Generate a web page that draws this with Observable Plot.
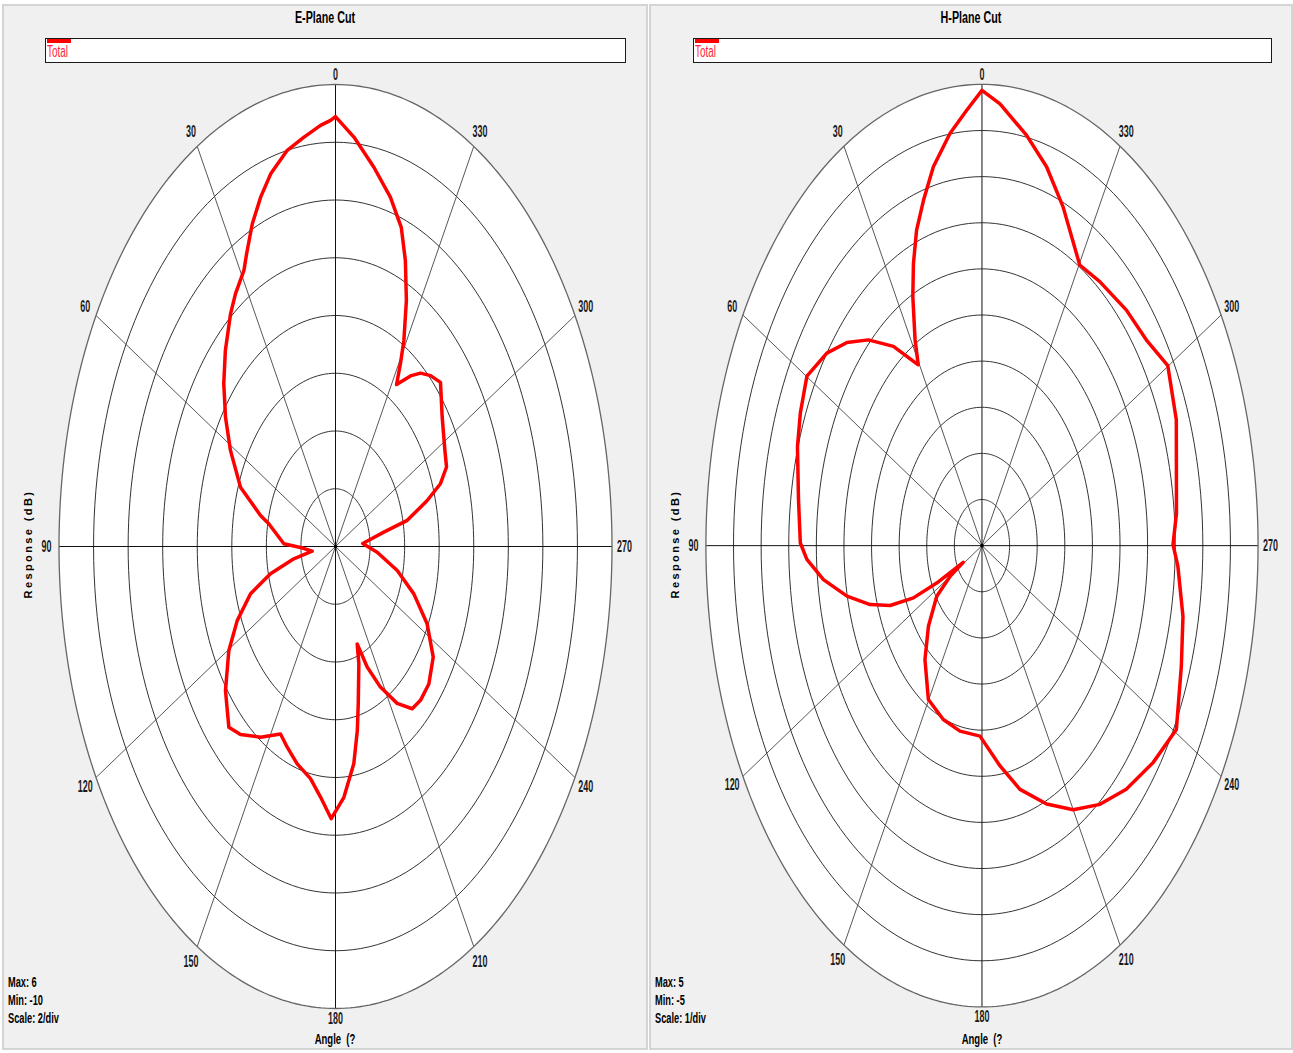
<!DOCTYPE html>
<html>
<head>
<meta charset="utf-8">
<script src="https://cdn.jsdelivr.net/npm/d3@7"></script>
<script src="https://cdn.jsdelivr.net/npm/@observablehq/plot@0.6"></script>
<style>
html, body { margin: 0; padding: 0; background: #fff; width: 1293px; height: 1053px; overflow: hidden; }
#root { position: relative; width: 1293px; height: 1053px; }
.panel { position: absolute; top: 4px; height: 1046px; background: #f0f0f0; border: 2px solid #d4d4d4; box-sizing: border-box; }
.plotwrap { position: absolute; top: 0; }
.t { position: absolute; font-family: "Liberation Sans", Arial, sans-serif; white-space: nowrap; color: #000; }
.title { top: 9px; font-size: 16px; font-weight: bold; text-align: center; transform: scaleX(0.67); transform-origin: center; }
.legend { position: absolute; top: 38px; height: 25px; box-sizing: border-box; border: 1px solid #1a1a1a; background: #fff; }
.legend .bar { position: absolute; left: 1px; top: 0px; width: 24px; height: 4px; background: #ff0000; }
.legend .lab { position: absolute; left: 1px; top: 4px; font-family: "Liberation Sans", Arial, sans-serif; font-size: 16px; color: #ff1e3c; transform: scaleX(0.62); transform-origin: left center; }
.info { font-size: 14px; font-weight: bold; line-height: 18px; transform: scaleX(0.66); transform-origin: left top; }
.angle { top: 1031px; width: 200px; font-size: 14px; font-weight: bold; text-align: center; transform: scaleX(0.68); }
.resp { width: 200px; top: 538px; font-size: 11px; font-weight: bold; letter-spacing: 2.4px; text-align: center; transform: rotate(-90deg); }
</style>
</head>
<body>
<div id="root">
  <div class="panel" style="left:2px;width:646px"></div>
  <div class="panel" style="left:649px;width:644px"></div>
  <div class="plotwrap" id="p0" style="left:0px"></div>
  <div class="plotwrap" id="p1" style="left:647px"></div>

  <div class="t title" style="left:2px;width:646px">E-Plane Cut</div>
  <div class="t title" style="left:649px;width:644px">H-Plane Cut</div>

  <div class="legend" style="left:45px;width:581px"><div class="bar"></div><div class="lab">Total</div></div>
  <div class="legend" style="left:693px;width:579px"><div class="bar"></div><div class="lab">Total</div></div>

  <div class="t resp" style="left:-72px">Response  (dB)</div>
  <div class="t resp" style="left:575px">Response  (dB)</div>

  <div class="t info" style="left:8px;top:973px">Max: 6<br>Min: -10<br>Scale: 2/div</div>
  <div class="t info" style="left:655px;top:973px">Max: 5<br>Min: -5<br>Scale: 1/div</div>

  <div class="t angle" style="left:235px">Angle&nbsp; (?</div>
  <div class="t angle" style="left:882px">Angle&nbsp; (?</div>
</div>
<script>
// ---- data (angle in degrees, counter-clockwise from top; response in dB) ----
const ePlaneAngle = [0, 1.1, 3.4, 7.4, 11.5, 16.2, 19.7, 23.3, 26.9, 29.0, 33.5, 37.0, 43.2, 48.9, 54.9, 61.3, 69.5, 76.1, 78.5, 88.2, 90.9, 96.9,
  100.0, 104.1, 108.4, 114.3, 120.3, 128.1, 135.4, 139.8, 146.7, 153.9, 158.1, 163.6, 169.8, 174.3, 178.5,
  183.2, 188.0, 191.2, 193.6, 198.4, 200.4, 203.7, 208.1, 213.3, 218.3, 222.7, 228.6, 235.9, 243.2, 250.1, 256.9, 265.3, 273.8,
  280.1, 282.3, 286.7, 289.7, 293.2, 297.7, 306.0, 313.1, 317.1, 320.7, 323.7, 327.8, 329.3, 331.0, 334.3, 337.8, 341.0, 345.3, 350.4, 355.7];
const ePlaneDb = [4.89, 4.76, 4.61, 4.29, 4.00, 3.44, 2.85, 2.17, 1.37, 0.93, 0.49, 0.09, -0.69, -1.42, -2.22, -3.07, -4.13, -5.53, -6.06, -7.01, -7.97, -8.64,
  -7.55, -6.12, -4.82, -3.76, -2.85, -1.91, -1.21, -1.48, -2.10, -2.77, -2.51, -2.15, -1.83, -1.28, -0.57,
  -1.30, -2.40, -3.50, -4.40, -5.72, -6.40, -5.44, -4.48, -3.50, -2.84, -2.75, -2.80, -3.17, -4.06, -5.18, -6.33, -7.58, -8.42,
  -7.16, -5.75, -4.46, -3.55, -3.01, -2.85, -2.37, -1.68, -1.92, -2.24, -2.67, -3.37, -2.64, -1.84, -0.54, 0.70, 1.69, 2.51, 3.32, 4.22];

const hPlaneAngle = [0, 3.4, 7.4, 12.1, 15.8, 19.1, 22.1, 24.9, 28.5, 30.5, 36.6, 42.7, 48.0, 53.4, 59.9, 66.4, 72.2, 81.5, 89.5, 92.7, 97.3,
  102.6, 107.5, 111.3, 114.5, 116.3, 118.1, 119.9, 123.8, 132.0, 140.1, 149.8, 159.6, 168.8, 179.0, 187.8, 194.6, 202.7, 210.0, 217.3,
  224.7, 232.8, 240.5, 250.1, 258.1, 266.4, 270.2, 275.7, 291.2, 300.1, 306.8, 314.3, 323.3, 329.8, 338.2, 344.1, 349.7, 356.1];
const hPlaneDb = [4.87, 4.45, 4.01, 3.40, 2.78, 2.24, 1.60, 0.95, 0.08, -0.45, 0.38, 1.07, 1.58, 2.00, 2.33, 2.18, 2.02, 1.72, 1.58, 1.35, 0.79,
  0.01, -0.75, -1.43, -2.27, -3.17, -4.23, -3.67, -3.03, -2.39, -1.78, -1.14, -0.98, -0.90, -0.87, -0.18, 0.46, 1.07, 1.61, 2.05,
  2.43, 2.78, 3.09, 2.68, 2.44, 2.11, 1.92, 2.08, 2.55, 2.78, 2.44, 2.31, 2.14, 2.04, 2.91, 3.54, 4.04, 4.60];

const angleTicks = [0, 30, 60, 90, 120, 150, 180, 210, 240, 270, 300, 330];
const ePlaneScale = [-10, 6, 2];   // min, max, dB per division
const hPlaneScale = [-5, 5, 1];

// ---- polar chart builder ----
const rad = a => a * Math.PI / 180;
const px = (a, r) => -r * Math.sin(rad(a));
const py = (a, r) => r * Math.cos(rad(a));

function polar(angles, dbs, [lo, hi, step]) {
  const n = Math.round((hi - lo) / step);
  const pattern = angles.map((a, i) => ({a, r: (dbs[i] - lo) / (hi - lo)}));
  const rings = [];
  for (let k = 1; k < n; k++) for (let a = 0; a < 360; a += 2) rings.push({k, a, r: k / n});
  const outer = d3.range(0, 360, 1).map(a => ({a, r: 1}));
  const X = d => px(d.a, d.r), Y = d => py(d.a, d.r);
  const font = '"Liberation Sans", Arial, sans-serif';
  const svg = Plot.plot({
    width: 647, height: 1053,
    marginLeft: 58.5, marginRight: 35.5, marginTop: 84, marginBottom: 45,
    x: {domain: [-1, 1], axis: null},
    y: {domain: [-1, 1], axis: null},
    style: {background: "transparent", overflow: "visible"},
    marks: [
      Plot.line(outer, {x: X, y: Y, fill: "white", stroke: "none", curve: "linear-closed"}),
      Plot.line(rings, {x: X, y: Y, z: "k", stroke: "#333", strokeWidth: 1, curve: "linear-closed"}),
      Plot.link(angleTicks.filter(a => a % 90 !== 0), {x1: 0, y1: 0, x2: a => px(a, 1), y2: a => py(a, 1), stroke: "#444", strokeWidth: 0.9}),
      Plot.link(angleTicks.filter(a => a % 90 === 0), {x1: 0, y1: 0, x2: a => px(a, 1), y2: a => py(a, 1), stroke: "#111", strokeWidth: 1}),
      Plot.line(outer, {x: X, y: Y, stroke: "#666", strokeWidth: 1.3, curve: "linear-closed"}),
      Plot.dot([0], {x: 0, y: 0, r: 1.8, fill: "#000", stroke: "none"}),
      Plot.line(pattern, {x: X, y: Y, stroke: "#ff0000", strokeWidth: 3.5, strokeLinejoin: "round", curve: "linear-closed"}),
      Plot.text(angleTicks, {x: a => px(a, 1.045), y: a => py(a, a % 180 === 0 ? 1.0216 : 1.037), dy: 5.5,
        text: a => String(a), fontSize: 16, fontWeight: "bold", fontFamily: font, fill: "#1a1a1a"})
    ]
  });
  // condense tick labels horizontally like the original narrow font
  svg.querySelectorAll('g[aria-label="text"] text').forEach(t => {
    const tr = t.getAttribute("transform") || "";
    const x = +t.getAttribute("x") || 0, y = +t.getAttribute("y") || 0;
    t.removeAttribute("x"); t.removeAttribute("y");
    t.setAttribute("transform", `${tr} translate(${x},${y}) scale(0.56,1)`);
  });
  return svg;
}

document.getElementById("p0").appendChild(polar(ePlaneAngle, ePlaneDb, ePlaneScale));
document.getElementById("p1").appendChild(polar(hPlaneAngle, hPlaneDb, hPlaneScale));
</script>
</body>
</html>
